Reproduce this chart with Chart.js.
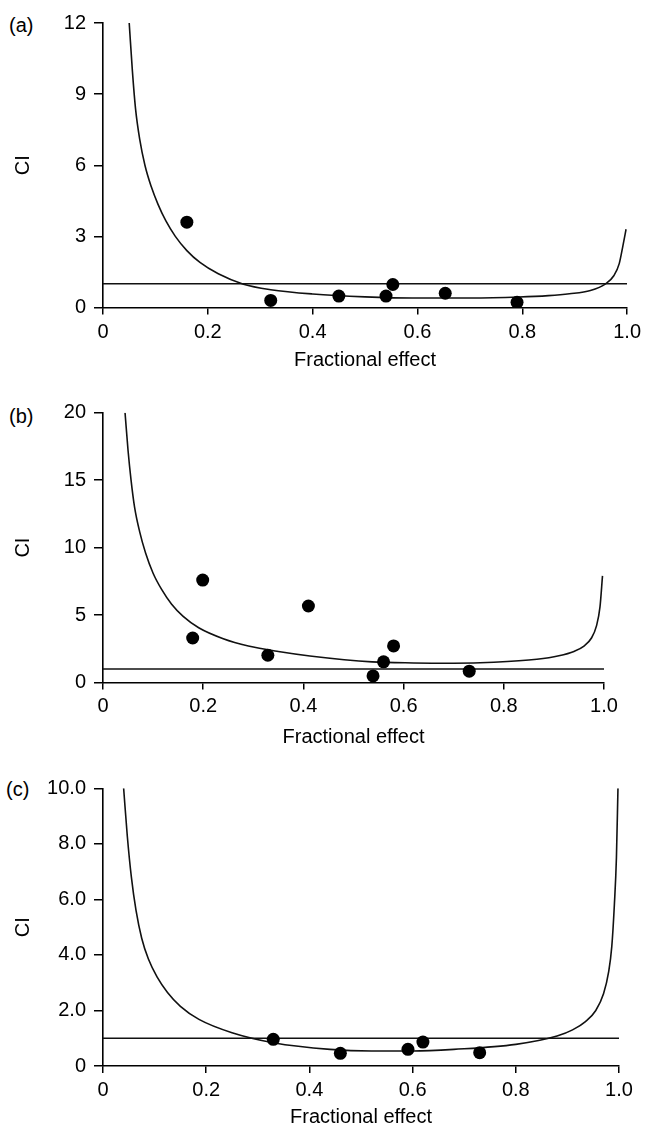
<!DOCTYPE html>
<html lang="en">

<head>
    <meta charset="UTF-8">
    <meta name="viewport" content="width=device-width, initial-scale=1.0">
    <script src="https://cdn.jsdelivr.net/npm/chart.js@4.4.1/dist/chart.umd.min.js"></script>
    <title>CI vs fractional effect</title>
    <style>
        html, body { margin: 0; padding: 0; background: #fff; overflow: hidden; }
        body { width: 647px; height: 1124px; position: relative; font-family: "Liberation Sans", Arial, sans-serif; }
        .panel { position: absolute; left: 0; width: 647px; }
        .tag { position: absolute; font-size: 20px; line-height: 20px; color: #000; }
    </style>
</head>

<body>
    <div class="tag" style="left:9px;top:15px">(a)</div>
    <div class="tag" style="left:9px;top:406px">(b)</div>
    <div class="tag" style="left:6px;top:779px">(c)</div>

    <div class="panel" style="top:0;height:372px"><canvas id="chartA"></canvas></div>
    <div class="panel" style="top:380px;height:369px"><canvas id="chartB"></canvas></div>
    <div class="panel" style="top:760px;height:369px"><canvas id="chartC"></canvas></div>

    <script>
// x axis (fractional effect) ticks, same on every panel
const xTickLabels = ['0', '0.2', '0.4', '0.6', '0.8', '1.0']

// reference line CI = 1
const refX = [0, 1]
const refCI = [1, 1]

// panel (a)
const yTicksA = ['0', '3', '6', '9', '12']
const curveA_x = [0.05, 0.056, 0.062, 0.07, 0.08, 0.092, 0.105, 0.12, 0.138, 0.16, 0.185, 0.22, 0.268, 0.32, 0.40, 0.50, 0.59, 0.70, 0.794, 0.85, 0.89, 0.93, 0.959, 0.975, 0.985, 0.992, 0.998]
const curveA_ci = [12, 10, 8.4, 7.1, 6.0, 5.1, 4.35, 3.65, 3.0, 2.4, 1.9, 1.42, 0.98, 0.75, 0.57, 0.45, 0.40, 0.40, 0.44, 0.50, 0.58, 0.72, 1.0, 1.35, 1.85, 2.6, 3.3]
const ptsA_x = [0.16, 0.32, 0.45, 0.54, 0.553, 0.653, 0.79]
const ptsA_ci = [3.6, 0.30, 0.48, 0.48, 0.97, 0.60, 0.22]

// panel (b)
const yTicksB = ['0', '5', '10', '15', '20']
const curveB_x = [0.044, 0.05, 0.056, 0.063, 0.073, 0.085, 0.1, 0.117, 0.137, 0.16, 0.191, 0.24, 0.29, 0.35, 0.413, 0.537, 0.62, 0.70, 0.78, 0.866, 0.91, 0.94, 0.96, 0.975, 0.985, 0.992, 0.997]
const curveB_ci = [20, 17.2, 15, 13, 11.2, 9.6, 8.1, 6.9, 5.8, 4.9, 4.06, 3.25, 2.71, 2.3, 1.97, 1.53, 1.45, 1.43, 1.5, 1.72, 1.98, 2.3, 2.7, 3.3, 4.2, 5.6, 7.9]
const ptsB_x = [0.179, 0.199, 0.329, 0.41, 0.539, 0.56, 0.58, 0.731]
const ptsB_ci = [3.30, 7.59, 2.02, 5.67, 0.49, 1.53, 2.71, 0.84]

// panel (c)
const yTicksC = ['0', '2.0', '4.0', '6.0', '8.0', '10.0']
const curveC_x = [0.04, 0.047, 0.055, 0.064, 0.075, 0.088, 0.105, 0.125, 0.15, 0.186, 0.25, 0.33, 0.44, 0.52, 0.60, 0.68, 0.80, 0.88, 0.91, 0.935, 0.955, 0.97, 0.98, 0.986, 0.991, 0.995, 0.998]
const curveC_ci = [10, 8.3, 6.8, 5.6, 4.6, 3.85, 3.2, 2.65, 2.15, 1.68, 1.2, 0.84, 0.60, 0.54, 0.54, 0.60, 0.78, 1.08, 1.3, 1.6, 2.0, 2.6, 3.4, 4.3, 5.8, 7.5, 10]
const ptsC_x = [0.33, 0.46, 0.591, 0.62, 0.73]
const ptsC_ci = [0.96, 0.455, 0.60, 0.86, 0.48]

const font = { family: "'Liberation Sans', Arial, sans-serif", size: 20 }
const ink = '#000'

function toXY(xs, ys) {
    return xs.map((x, i) => ({ x: x, y: ys[i] }))
}

function makeChart(id, p) {
    return new Chart(document.getElementById(id), {
        type: 'scatter',
        data: {
            datasets: [
                { data: toXY(p.ptX, p.ptY), pointRadius: 6.5, pointBackgroundColor: ink, pointBorderWidth: 0, order: 1 },
                { data: toXY(p.curveX, p.curveY), showLine: true, borderColor: '#111', borderWidth: 1.6, pointRadius: 0, cubicInterpolationMode: 'monotone', order: 2 },
                { data: toXY(refX, refCI), showLine: true, borderColor: '#111', borderWidth: 1.6, pointRadius: 0, order: 3 }
            ]
        },
        options: {
            responsive: true,
            maintainAspectRatio: false,
            animation: false,
            layout: { padding: { top: p.top, right: p.right, left: 0, bottom: 0 } },
            plugins: { legend: { display: false }, tooltip: { enabled: false } },
            scales: {
                x: {
                    type: 'linear', min: 0, max: 1,
                    afterFit: (scale) => { scale.height = p.xAxisH },
                    ticks: { stepSize: 0.2, color: ink, font: font, padding: p.xPad, maxRotation: 0,
                        callback: (v, i) => xTickLabels[i] },
                    grid: { drawOnChartArea: false, drawTicks: true, tickLength: 7, color: ink, lineWidth: 1.5 },
                    border: { color: ink, width: 1.6 },
                    title: { display: true, text: 'Fractional effect', color: ink, font: font, padding: { top: 0, bottom: 0 } }
                },
                y: {
                    type: 'linear', min: 0, max: p.yMax,
                    afterFit: (scale) => { scale.width = 103 },
                    ticks: { stepSize: p.yStep, color: ink, font: font, padding: 8,
                        callback: (v, i) => p.yLabels[i] },
                    grid: { drawOnChartArea: false, drawTicks: true, tickLength: 9, color: ink, lineWidth: 1.5 },
                    border: { color: ink, width: 1.6 },
                    title: { display: true, text: 'CI', color: ink, font: font, padding: { top: 11, bottom: 0 } }
                }
            }
        }
    })
}

makeChart('chartA', { curveX: curveA_x, curveY: curveA_ci, ptX: ptsA_x, ptY: ptsA_ci, yMax: 12, yStep: 3, yLabels: yTicksA, top: 23, right: 19, xAxisH: 64.5, xPad: 6 })
makeChart('chartB', { curveX: curveB_x, curveY: curveB_ci, ptX: ptsB_x, ptY: ptsB_ci, yMax: 20, yStep: 5, yLabels: yTicksB, top: 32.7, right: 43, xAxisH: 66.5, xPad: 5 })
makeChart('chartC', { curveX: curveC_x, curveY: curveC_ci, ptX: ptsC_x, ptY: ptsC_ci, yMax: 10, yStep: 2, yLabels: yTicksC, top: 28.3, right: 28, xAxisH: 63, xPad: 5 })
    </script>
</body>

</html>
